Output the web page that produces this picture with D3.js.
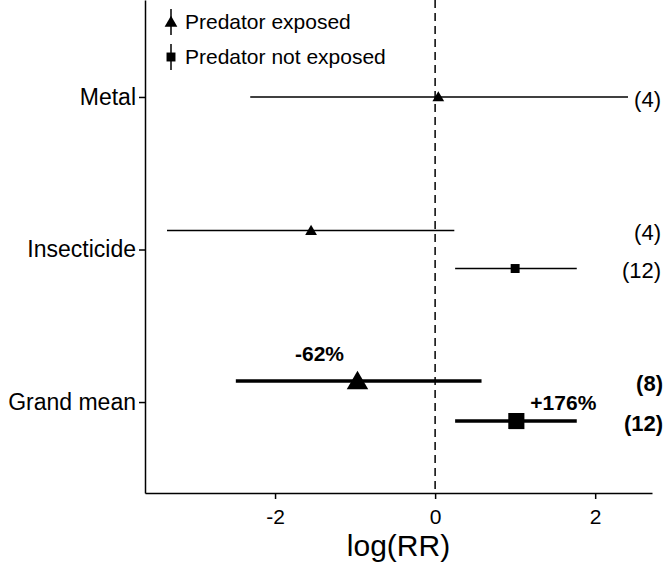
<!DOCTYPE html>
<html>
<head>
<meta charset="utf-8">
<script src="https://cdn.jsdelivr.net/npm/d3@7"></script>
<style>
  body { margin: 0; background: #fff; }
  text { font-family: "Liberation Sans", Arial, Helvetica, sans-serif; fill: #000; }
</style>
</head>
<body>
<div id="chart-container"></div>
<script>
// Categories, top to bottom
const categories = ["Metal", "Insecticide", "Grand mean"];

// Predator exposed (triangles)
const exposedMean = [0.04, -1.55, -0.97];
const exposedLow  = [-2.31, -3.35, -2.49];
const exposedHigh = [2.41, 0.24, 0.58];
const exposedN    = [4, 4, 8];

// Predator not exposed (squares)
const notExposedMean = [null, 1.0, 1.015];
const notExposedLow  = [null, 0.25, 0.25];
const notExposedHigh = [null, 1.77, 1.77];
const notExposedN    = [null, 12, 12];

// Percent labels on the grand mean
const pctLabels = ["-62%", "+176%"];

const xTicks = [-2, 0, 2];

const W = 669, H = 564;
const margin = { top: 0, right: 17, bottom: 71, left: 145 };
const width = W - margin.left - margin.right;
const height = H - margin.top - margin.bottom;

const svg = d3.select("#chart-container")
    .append("svg")
    .attr("width", W)
    .attr("height", H);

const g = svg.append("g")
    .attr("transform", `translate(${margin.left},${margin.top})`);

const x = d3.scaleLinear()
    .domain([-3.625, 2.71])
    .range([0, width]);

const y = d3.scalePoint()
    .domain(categories)
    .range([0, height])
    .padding(0.616)
    .align(0.516);

// Build rows from arrays
const rows = [];
categories.forEach((c, i) => {
    const hasBoth = notExposedMean[i] !== null;
    rows.push({ cat: c, type: "exposed", mean: exposedMean[i], lo: exposedLow[i], hi: exposedHigh[i],
        n: exposedN[i], off: hasBoth ? (c === "Grand mean" ? -21 : -19) : 0, grand: c === "Grand mean" });
    if (hasBoth) {
        rows.push({ cat: c, type: "not", mean: notExposedMean[i], lo: notExposedLow[i], hi: notExposedHigh[i],
            n: notExposedN[i], off: 19, grand: c === "Grand mean" });
    }
});
const rowY = d => y(d.cat) + d.off;

// Reference dashed line at 0
g.append("line")
    .attr("x1", x(0)).attr("x2", x(0))
    .attr("y1", 0).attr("y2", height)
    .attr("stroke", "#000")
    .attr("stroke-width", 1.5)
    .attr("stroke-dasharray", "8,5");

// Axes
const xAxis = g.append("g")
    .attr("transform", `translate(0,${height})`)
    .call(d3.axisBottom(x).tickValues(xTicks).tickSize(6).tickSizeOuter(0).tickFormat(d => String(d)));
xAxis.select(".domain").attr("stroke-width", 1.5);
xAxis.selectAll(".tick line").attr("stroke-width", 1.5);
xAxis.selectAll(".tick text")
    .attr("dy", "1.05em")
    .style("font-size", "21px")
    .style("font-family", "'Liberation Sans', Arial, sans-serif");

const yAxis = g.append("g")
    .call(d3.axisLeft(y).tickSize(6).tickSizeOuter(0));
yAxis.select(".domain").attr("stroke-width", 1.5);
yAxis.selectAll(".tick line").attr("stroke-width", 1.5);
yAxis.selectAll(".tick text")
    .attr("x", -9)
    .style("font-size", "23px")
    .style("font-family", "'Liberation Sans', Arial, sans-serif");

// Axis title
svg.append("text")
    .attr("x", margin.left + width / 2)
    .attr("y", 556)
    .attr("text-anchor", "middle")
    .style("font-size", "30px")
    .text("log(RR)");

// Error bars
g.selectAll(".ci")
    .data(rows)
    .join("line")
    .attr("class", "ci")
    .attr("x1", d => x(d.lo))
    .attr("x2", d => x(d.hi))
    .attr("y1", rowY)
    .attr("y2", rowY)
    .attr("stroke", "#000")
    .attr("stroke-width", d => d.grand ? 3.5 : 1.5);

// Markers
const tri = d3.symbol().type(d3.symbolTriangle);
const sq = d3.symbol().type(d3.symbolSquare);
g.selectAll(".pt")
    .data(rows)
    .join("path")
    .attr("class", "pt")
    .attr("transform", d => `translate(${x(d.mean)},${rowY(d) + (d.type === "exposed" ? (d.grand ? 2 : 1) : 0)})`)
    .attr("d", d => d.type === "exposed"
        ? tri.size(d.grand ? 200 : 60)()
        : sq.size(d.grand ? 260 : 80)())
    .attr("fill", "#000");

// Sample sizes
g.selectAll(".n")
    .data(rows)
    .join("text")
    .attr("class", "n")
    .attr("x", d => width + (d.grand ? 11 : 9))
    .attr("y", d => rowY(d) + 2)
    .attr("dy", "0.35em")
    .attr("text-anchor", "end")
    .style("font-size", "22px")
    .style("font-weight", d => d.grand ? "bold" : "normal")
    .text(d => `(${d.n})`);

// Percent labels
const grandRows = rows.filter(d => d.grand);
g.selectAll(".pct")
    .data(grandRows)
    .join("text")
    .attr("class", "pct")
    .attr("x", (d, i) => x(d.mean) + (i === 0 ? -38 : 47))
    .attr("y", (d, i) => rowY(d) + (i === 0 ? -20 : -11))
    .attr("text-anchor", "middle")
    .style("font-size", "21px")
    .style("font-weight", "bold")
    .text((d, i) => pctLabels[i]);

// Legend
const legend = svg.append("g").attr("transform", "translate(171,0)");
const legendItems = [
    { label: "Predator exposed", type: "exposed", cy: 22 },
    { label: "Predator not exposed", type: "not", cy: 57 }
];
legendItems.forEach(it => {
    legend.append("line")
        .attr("x1", 0).attr("x2", 0)
        .attr("y1", it.cy - 13).attr("y2", it.cy + 13)
        .attr("stroke", "#000")
        .attr("stroke-width", 1.5);
    legend.append("path")
        .attr("transform", `translate(0,${it.cy + (it.type === "exposed" ? 1 : 0)})`)
        .attr("d", it.type === "exposed" ? tri.size(70)() : sq.size(80)())
        .attr("fill", "#000");
    legend.append("text")
        .attr("x", 14)
        .attr("y", it.cy)
        .attr("dy", "0.35em")
        .style("font-size", "21px")
        .text(it.label);
});
</script>
</body>
</html>
